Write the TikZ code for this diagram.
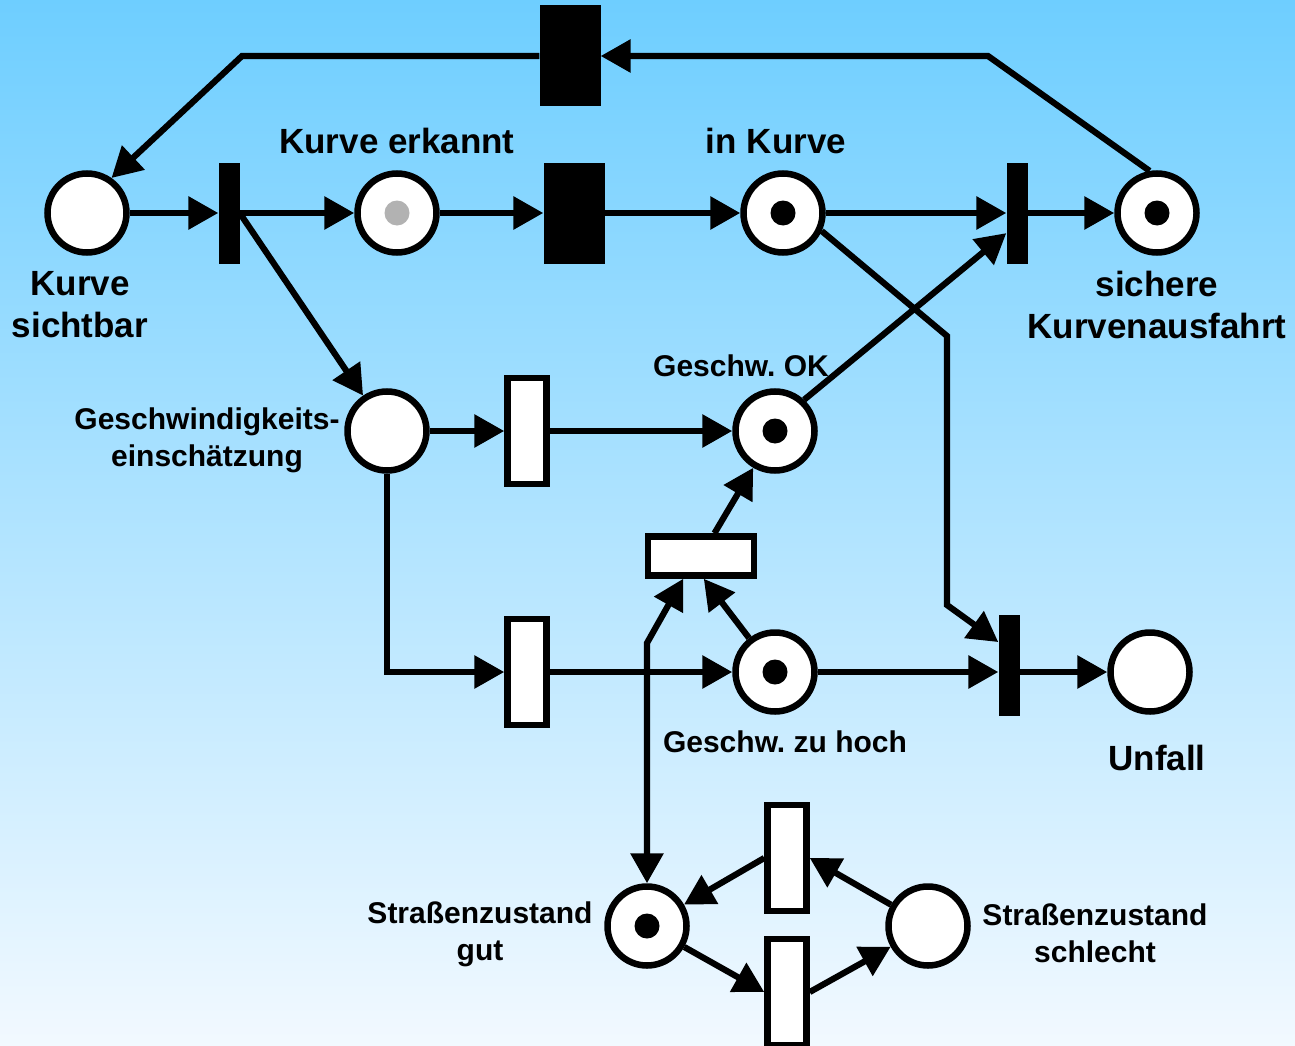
\documentclass[tikz,border=0pt]{standalone}
\usepackage{fontspec}
\setmainfont{Liberation Sans}
\usetikzlibrary{arrows.meta}
\definecolor{skytop}{RGB}{110,206,255}
\definecolor{skybottom}{RGB}{242,249,255}
\definecolor{tokengray}{RGB}{178,178,178}

\begin{document}
\begin{tikzpicture}[x=1pt, y=-1pt,
    >={Triangle[length=30pt,width=32pt]},
    arc/.style={->, line width=6.2pt},
    place/.style={circle, draw, fill=white, line width=6.5pt, minimum size=79pt, inner sep=0pt},
    marked/.style={path picture={\fill[#1] (path picture bounding box.center) circle (12.5pt);}},
    marked/.default=black,
    tbar/.style={rectangle, fill=black, inner sep=0pt, minimum width=21pt, minimum height=101pt},
    tblock/.style={rectangle, fill=black, inner sep=0pt, minimum width=61pt, minimum height=101pt},
    wbar/.style={rectangle, draw, fill=white, line width=6.5pt, inner sep=0pt, minimum width=39pt, minimum height=106pt},
    lbl/.style={font=\frenchspacing\bfseries\fontsize{35}{42}\selectfont, align=center, inner sep=0pt},
    slbl/.style={font=\frenchspacing\bfseries\fontsize{30}{37}\selectfont, align=center, inner sep=0pt}]
      \useasboundingbox (0,0) rectangle (1295,1046);
      \shade[top color=skytop, bottom color=skybottom] (0,0) rectangle (1295,1046);

      % Top row: curve seen, recognised, in the curve, left safely
      \node[place] (p1) at (87,213) {};
      \node[tbar] (t1) at (229,213) {};
      \node[place, marked=tokengray] (p2) at (397,213) {};
      \node[tblock] (t2) at (574,213) {};
      \node[place, marked] (p3) at (783,213) {};
      \node[tbar] (t3) at (1017,213) {};
      \node[place, marked] (p4) at (1157,213) {};
      \node[tblock] (t4) at (570,56) {};

      % Speed estimation
      \node[place] (p5) at (387,431) {};
      \node[wbar] (t5) at (527,431) {};
      \node[place, marked] (p6) at (775,431) {};
      \node[wbar, minimum width=106pt, minimum height=39pt] (t6) at (701,556) {};
      \node[wbar] (t7) at (527,672) {};
      \node[place, marked] (p7) at (775,672) {};
      \node[tbar] (t8) at (1009,665) {};
      \node[place] (p8) at (1150,672) {};

      % Road condition
      \node[place, marked] (p9) at (647,926) {};
      \node[wbar] (t9) at (787,858) {};
      \node[wbar] (t10) at (787,992) {};
      \node[place] (p10) at (928,926) {};

      % Labels
      \node[lbl] (lsicht) at (80,305) {Kurve\\sichtbar};
      \node[lbl] (lerk) at (397,141) {Kurve erkannt};
      \node[lbl] (lin) at (776,141) {in Kurve};
      \node[lbl] (laus) at (1157,305) {sichere\\Kurvenausfahrt};
      \node[slbl] (lein) at (207,440) {Geschwindigkeits-\\einschätzung};
      \node[slbl] (lok) at (741,366) {Geschw. OK};
      \node[slbl] (lhoch) at (785,742) {Geschw. zu hoch};
      \node[lbl] (lunf) at (1157,758) {Unfall};
      \node[slbl] (lgut) at (480,934) {Straßenzustand\\gut};
      \node[slbl] (lschl) at (1095,933) {Straßenzustand\\schlecht};

      % Bends
      \coordinate (k1) at (988,56);
      \coordinate (k2) at (242,56);
      \coordinate (k3) at (947,336);
      \coordinate (k4) at (947,605);
      \coordinate (k5) at (647,643);

      % Arcs
      \draw[arc] (p1) -- (t1);
      \draw[arc] (t1) -- (p2);
      \draw[arc] (p2) -- (t2);
      \draw[arc] (t2) -- (p3);
      \draw[arc] (p3) -- (t3);
      \draw[arc] (t3) -- (p4);
      \draw[arc] (p4.100) -- (k1) -- (t4);
      \draw[arc] (t4) -- (k2) -- (p1.55);
      \draw[arc] (t1.east) -- (p5);
      \draw[arc] (p5) -- (t5);
      \draw[arc] (t5) -- (p6);
      \draw[arc] (p6.47) -- (t3.242);
      \draw[arc] (p3.-25) -- (k3) -- (k4) -- (t8.115);
      \draw[arc] (p5) |- (t7);
      \draw[arc] (t7) -- (p7);
      \draw[arc] (p7) -- (p7 -| t8.west);
      \draw[arc] (t8.east |- p8) -- (p8);
      \draw[arc] (t6) -- (p6);
      \draw[arc] (p7) -- (t6.277);
      \draw[<->, line width=6.2pt] (t6.232) -- (k5) -- (p9);
      \draw[arc] (t9.west) -- (p9);
      \draw[arc] (p10) -- (t9.east);
      \draw[arc] (p9) -- (t10.west);
      \draw[arc] (t10.east) -- (p10);
\end{tikzpicture}
\end{document}
